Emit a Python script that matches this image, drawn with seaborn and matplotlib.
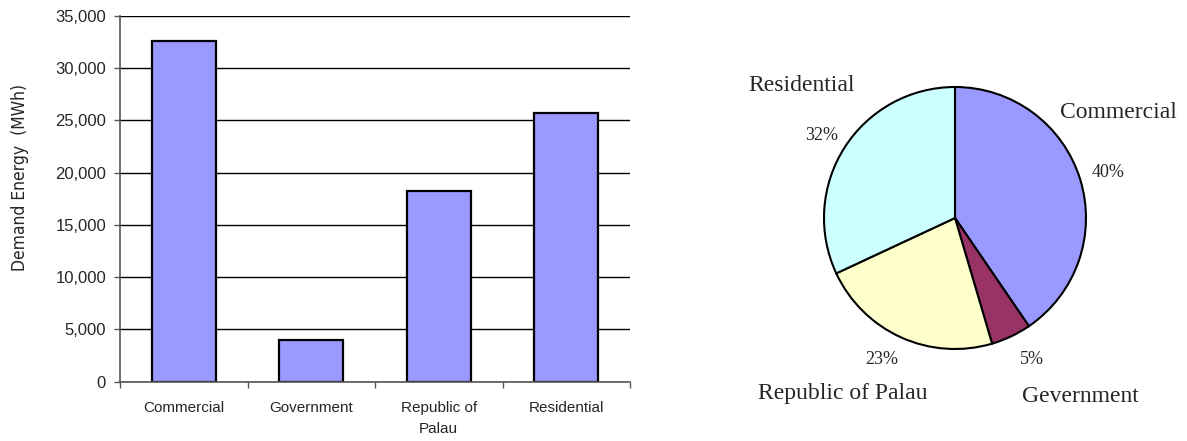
import matplotlib
matplotlib.use("Agg")
import matplotlib.pyplot as plt
import matplotlib.font_manager as fm
import seaborn as sns
import pandas as pd
from matplotlib.ticker import FuncFormatter, MultipleLocator

# Annual demand energy by customer class (MWh)
categories = ["Commercial", "Government", "Republic of\nPalau", "Residential"]
demand_mwh = [32550, 4000, 18200, 25700]
pie_labels = ["Commercial", "Gevernment", "Republic of Palau", "Residential"]
pie_colors = ["#9999FF", "#993366", "#FFFFCC", "#CCFFFF"]
y_ticks = [0, 5000, 10000, 15000, 20000, 25000, 30000, 35000]

sns.set_style("white")
plt.rcParams["font.family"] = ["Liberation Sans", "DejaVu Sans"]

# pick a regular-weight condensed face for the axis title if one is installed
def _is_regular(f):
    return f.weight in (400, "normal", "regular", "book", "medium", 500) and f.style == "normal"

def _is_condensed(f):
    return (f.stretch in ("condensed", "semi-condensed", "extra-condensed", 300, 400)
            and f.stretch not in (500, "normal")) or "Narrow" in f.name or "Condensed" in f.name

candidates = [f for f in fm.fontManager.ttflist if _is_condensed(f) and _is_regular(f)]
names = {f.name for f in fm.fontManager.ttflist}
if "Liberation Sans Narrow" in names:
    ylabel_font = dict(fontfamily="Liberation Sans Narrow", fontsize=13)
elif candidates:
    ylabel_font = dict(fontproperties=fm.FontProperties(fname=candidates[0].fname, size=12.5))
else:
    ylabel_font = dict(fontfamily="DejaVu Sans", fontsize=11)

fig = plt.figure(figsize=(11.87, 4.41), dpi=100)

# ---- bar chart ----
ax = fig.add_axes([120 / 1187, 1 - 381.7 / 441, 510 / 1187, (381.7 - 15.7) / 441])
df = pd.DataFrame({"category": categories, "demand": demand_mwh})
sns.barplot(data=df, x="category", y="demand", color="#9999FF", saturation=1,
            edgecolor="black", linewidth=1.6, width=0.5, ax=ax)
ax.set_xlim(-0.5, 3.5)
ax.set_ylim(y_ticks[0], y_ticks[-1])
ax.set_yticks(y_ticks)
ax.yaxis.set_major_formatter(FuncFormatter(lambda v, p: f"{int(v):,}"))
ax.set_axisbelow(True)
ax.yaxis.grid(True, color="black", linewidth=1.0)
ax.xaxis.grid(False)
for s in ["top", "right"]:
    ax.spines[s].set_visible(False)
for s in ["left", "bottom"]:
    ax.spines[s].set_color("#555555")
    ax.spines[s].set_linewidth(1.2)
ax.tick_params(axis="y", which="major", direction="out", length=4, width=1,
               color="#555555", labelsize=12, pad=6, left=True)
ax.tick_params(axis="x", which="major", length=0, labelsize=11, pad=14)
ax.xaxis.set_minor_locator(MultipleLocator(1, offset=0.5))
ax.tick_params(axis="x", which="minor", direction="out", length=4, width=1,
               color="#555555", bottom=True)
ax.set_xlabel("")
ax.set_ylabel("Demand Energy  (MWh)", **ylabel_font)
ax.yaxis.set_label_coords(-0.178, 0.558)
for lbl in ax.get_xticklabels():
    lbl.set_linespacing(1.6)

# ---- pie chart ----
pax = fig.add_axes([700 / 1187, 0, 487 / 1187, 1])
R = 131.0
cx, cy = 955.0, 218.0
wedges, _, autotexts = pax.pie(
    demand_mwh, colors=pie_colors, startangle=90, counterclock=False,
    autopct=lambda p: f"{p:.0f}%",
    wedgeprops=dict(edgecolor="black", linewidth=1.5),
    textprops=dict(family="Liberation Serif", fontsize=13),
)
pax.set_aspect("auto")
pax.set_xlim((700 - cx) / R, (1187 - cx) / R)
pax.set_ylim((cy - 441) / R, cy / R)
pax.axis("off")

def to_data(px, py):
    return (px - cx) / R, (cy - py) / R

pct_pos = [(1108, 172), (1032, 360), (882, 360), (822, 135)]
for t, (px, py) in zip(autotexts, pct_pos):
    t.set_position(to_data(px, py))
    t.set_ha("center")
    t.set_va("center")

name_pos = [(1118, 112), (1080, 397), (843, 393), (802, 85)]
for name, (px, py) in zip(pie_labels, name_pos):
    x, y = to_data(px, py)
    pax.text(x, y, name, ha="center", va="center",
             family="Liberation Serif", fontsize=17)

fig.savefig("out.png", dpi=100)
